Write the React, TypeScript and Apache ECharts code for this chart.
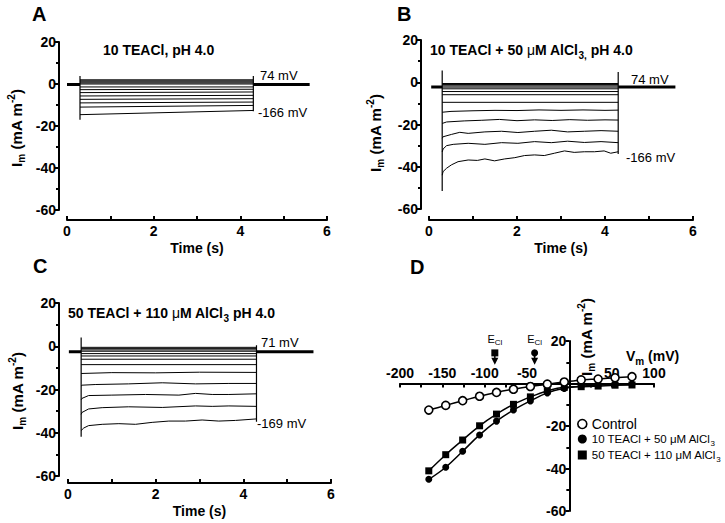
import React, { useEffect, useRef } from 'react';
import * as echarts from 'echarts';

const FONT = '"Liberation Sans", Arial, Helvetica, sans-serif';

// ---------- Panel A: 10 TEACl, pH 4.0 (pulse 0.3 s -> 4.3 s) ----------
const VOLTS_A = [74, 54, 34, 14, -6, -26, -46, -66, -86, -106, -126, -146, -166];
const A_START = [2.0, 1.5, 1.0, 0.5, 0.0, -1.4, -2.7, -4.1, -5.7, -7.3, -9.0, -11.0, -14.6];
const A_END = [2.0, 1.5, 1.0, 0.5, 0.0, -1.4, -2.5, -3.8, -5.4, -7.0, -8.6, -10.2, -12.6];
const A_HOLD = -0.2;
const A_ON = [3.8, -17];
const A_OFF = [3.8, -13];

// ---------- Panel B: 10 TEACl + 50 uM AlCl3 ----------
const B_FLAT = [-0.6, -1.1, -1.7, -2.3, -3.1, -4.4, -5.9, -9.5];
const B_M86 = [[0.3, -14.2], [0.5, -13.8], [1.0, -13.5], [1.5, -13.3], [2.0, -13.4], [2.5, -13.1], [3.0, -13.3], [3.5, -13.1], [4.0, -13.3], [4.3, -13.2]];
const B_M106 = [[0.3, -19.5], [0.4, -18.8], [0.8, -18.3], [1.2, -18.0], [1.6, -17.6], [2.0, -18.2], [2.4, -17.8], [2.8, -18.1], [3.2, -17.7], [3.6, -18.0], [4.0, -17.8], [4.3, -17.9]];
const B_M126 = [[0.3, -26.5], [0.32, -25.8], [0.51, -24.7], [0.7, -23.7], [0.89, -24.2], [1.27, -23.5], [1.65, -23.2], [2.02, -23.8], [2.4, -23.2], [2.78, -22.7], [3.15, -23.5], [3.53, -23.2], [3.91, -22.9], [4.3, -23.2]];
const B_M146 = [[0.3, -33.0], [0.32, -31.6], [0.4, -30.0], [0.55, -29.4], [0.89, -28.9], [1.27, -29.4], [1.65, -28.6], [2.02, -28.9], [2.4, -28.1], [2.78, -28.6], [3.15, -27.9], [3.53, -28.5], [3.91, -28.1], [4.3, -28.6]];
const B_M166 = [[0.3, -44.0], [0.32, -42.3], [0.4, -40.7], [0.51, -39.1], [0.66, -37.6], [0.89, -36.8], [1.1, -37.0], [1.27, -36.3], [1.49, -37.2], [1.72, -36.3], [1.95, -35.7], [2.17, -34.7], [2.4, -34.4], [2.62, -34.7], [2.85, -33.6], [3.08, -32.5], [3.3, -33.2], [3.53, -32.9], [3.76, -32.9], [3.98, -32.5], [4.13, -33.6], [4.3, -32.9]];
const B_HOLD = -2.2;
const B_ON = [5.6, -51.5];
const B_OFF = [4.8, -34];

// ---------- Panel C: 50 TEACl + 110 uM AlCl3 ----------
const C_FLAT = [-0.5, -1.1, -1.7, -2.3, -3.4, -4.5, -6.0, -8.5];
const C_M89 = [[0.3, -12.6], [1.0, -12.2], [2.0, -12.3], [3.0, -12.0], [4.3, -12.1]];
const C_M109 = [[0.3, -18.4], [0.32, -18.0], [0.62, -17.7], [1.38, -17.4], [2.15, -16.9], [2.91, -17.4], [3.67, -17.2], [4.3, -17.2]];
const C_M129 = [[0.3, -24.8], [0.32, -24.1], [0.47, -22.8], [1.0, -22.6], [1.77, -22.3], [2.53, -22.6], [2.91, -21.8], [3.29, -22.3], [3.67, -22.3], [4.3, -22.0]];
const C_M149 = [[0.3, -31.5], [0.32, -30.6], [0.47, -29.0], [0.78, -28.4], [1.38, -28.0], [2.15, -28.3], [2.91, -27.6], [3.29, -27.8], [3.67, -27.6], [4.3, -27.8]];
const C_M169 = [[0.3, -39.0], [0.36, -37.8], [0.47, -36.7], [0.78, -36.1], [1.16, -35.8], [1.54, -36.1], [1.92, -35.2], [2.3, -34.6], [2.68, -34.6], [3.06, -34.1], [3.44, -34.6], [3.82, -34.3], [4.3, -33.6]];
const C_HOLD = -2.6;
const C_ON = [4.0, -41.8];
const C_OFF = [0.5, -34.9];

// ---------- Panel D: I-V relations ----------
const VM = [-166, -146, -126, -106, -86, -66, -46, -26, -6, 14, 34, 54, 74];
const CONTROL = [-12.5, -10.3, -8.1, -6.0, -4.2, -2.7, -1.4, -0.3, 0.7, 1.7, 2.1, 2.7, 3.2];
const AL50 = [-45.1, -39.4, -31.9, -24.2, -17.7, -12.5, -8.2, -4.4, -2.3, -1.2, -0.7, -0.4, -0.2];
const AL110 = [-41.1, -33.5, -26.6, -19.9, -14.4, -9.8, -6.3, -3.5, -1.8, -1.5, -1.2, -0.8, -0.7];
const NAMES = ['Control', '10 TEACl + 50 \u03bcM AlCl3', '50 TEACl + 110 \u03bcM AlCl3'];
const ECL_SQ = -88;
const ECL_CI = -41;
const ECL_MARK = 14.4;
const ECL_ARROW = 10.5;

// D axis geometry (grid px): zero crossing offsets
const D_LEFT = 400, D_TOP = 341, D_W = 254, D_H = 170;
const D_XMIN = -200, D_XMAX = 100, D_YMIN = -60, D_YMAX = 20;

const BLACK = '#000';

function lineSeries(gi: number, data: any[], width = 1) {
  return {
    type: 'line', xAxisIndex: gi, yAxisIndex: gi, data, symbol: 'none', silent: true,
    lineStyle: { color: BLACK, width }, z: 2,
  };
}

function panelSeries(gi: number, traces: any[], hold: number, range: number[], on: number[], off: number[]) {
  const s: any[] = traces.map((t) => lineSeries(gi, t, 1));
  s.push(lineSeries(gi, [[range[0], hold], [0.3, hold]], 3));
  s.push(lineSeries(gi, [[4.3, hold], [range[1], hold]], 3));
  s.push(lineSeries(gi, [[0.3, on[0]], [0.3, on[1]]], 1.2));
  s.push(lineSeries(gi, [[4.3, off[0]], [4.3, off[1]]], 1.2));
  return s;
}

const labelStyle = { color: BLACK, fontFamily: FONT, fontSize: 14, fontWeight: 'bold' };

function traceX(gi: number, offset: number) {
  return {
    gridIndex: gi, type: 'value', min: 0, max: 6, interval: 2, offset,
    axisLine: { show: true, onZero: false, lineStyle: { color: BLACK, width: 2 } },
    axisTick: { show: true, inside: true, length: 4, lineStyle: { color: BLACK, width: 2 } },
    minorTick: { show: true, splitNumber: 2, length: 4, lineStyle: { color: BLACK, width: 2 } },
    splitLine: { show: false },
    axisLabel: { ...labelStyle, margin: 4 },
    name: 'Time (s)', nameLocation: 'middle', nameGap: 21,
    nameTextStyle: { ...labelStyle },
  };
}

function traceY(gi: number, offset: number) {
  return {
    gridIndex: gi, type: 'value', min: -60, max: 20, interval: 20, offset,
    axisLine: { show: true, onZero: false, lineStyle: { color: BLACK, width: 2 } },
    axisTick: { show: true, length: 4, lineStyle: { color: BLACK, width: 2 } },
    minorTick: { show: true, splitNumber: 2, length: 3, lineStyle: { color: BLACK, width: 2 } },
    splitLine: { show: false },
    axisLabel: { ...labelStyle, margin: 3 },
  };
}

const yNameRich = {
  a: { fontFamily: FONT, fontSize: 15, fontWeight: 'bold', color: BLACK, lineHeight: 20, verticalAlign: 'middle' },
  b: { fontFamily: FONT, fontSize: 10, fontWeight: 'bold', color: BLACK, lineHeight: 20, verticalAlign: 'bottom' },
  c: { fontFamily: FONT, fontSize: 10, fontWeight: 'bold', color: BLACK, lineHeight: 20, verticalAlign: 'top' },
};

function yName(x: number, y: number) {
  return {
    type: 'text', x, y, rotation: Math.PI / 2,
    style: { text: '{a|I}{b|m}{a| (mA m}{c|-2}{a|)}', rich: yNameRich, align: 'center', verticalAlign: 'middle' },
  };
}

function plainText(x: number, y: number, text: string, size = 13, weight = 'normal') {
  return {
    type: 'text', x, y,
    style: { text, fontFamily: FONT, fontSize: size, fontWeight: weight, fill: BLACK, verticalAlign: 'middle' },
  };
}

const titleRich = {
  b: { fontFamily: FONT, fontSize: 14, fontWeight: 'bold', color: BLACK, lineHeight: 20, verticalAlign: 'middle' },
  u: { fontFamily: FONT, fontSize: 14, fontWeight: 'normal', color: BLACK, lineHeight: 20, verticalAlign: 'middle' },
  s: { fontFamily: FONT, fontSize: 10, fontWeight: 'bold', color: BLACK, lineHeight: 20, verticalAlign: 'bottom' },
};

function richText(x: number, y: number, text: string, rich: any) {
  return { type: 'text', x, y, style: { text, rich, verticalAlign: 'middle' } };
}

function buildOption() {
  const tracesA = VOLTS_A.map((_, i) => [[0.3, A_START[i]], [4.3, A_END[i]]]);
  const tracesB = [...B_FLAT.map((v) => [[0.3, v], [4.3, v]]), B_M86, B_M106, B_M126, B_M146, B_M166];
  const tracesC = [...C_FLAT.map((v) => [[0.3, v], [4.3, v]]), C_M89, C_M109, C_M129, C_M149, C_M169];

  const hideZero = (v: number) => (v === 0 ? '' : String(v));
  const xZeroOffset = -(D_W * (0 - D_XMIN)) / (D_XMAX - D_XMIN);
  const yZeroOffset = -(D_H * (D_YMAX - 0)) / (D_YMAX - D_YMIN);

  const eclRich = {
    e: { fontFamily: FONT, fontSize: 11, color: BLACK, lineHeight: 14, verticalAlign: 'middle', textBorderWidth: 0 },
    c: { fontFamily: FONT, fontSize: 8, color: BLACK, lineHeight: 14, verticalAlign: 'bottom', textBorderWidth: 0 },
  };

  const dSeries: any[] = [
    {
      name: NAMES[0], type: 'line', xAxisIndex: 3, yAxisIndex: 3,
      data: VM.map((v, i) => [v, CONTROL[i]]), smooth: 0.3,
      symbol: 'circle', symbolSize: 8,
      itemStyle: { color: '#fff', borderColor: BLACK, borderWidth: 1.6 },
      lineStyle: { color: BLACK, width: 1.5 }, z: 5,
    },
    {
      name: NAMES[1], type: 'line', xAxisIndex: 3, yAxisIndex: 3,
      data: VM.map((v, i) => [v, AL50[i]]), smooth: 0.4,
      symbol: 'circle', symbolSize: 7,
      itemStyle: { color: BLACK, borderColor: BLACK, borderWidth: 0 },
      lineStyle: { color: BLACK, width: 1.5 }, z: 4,
    },
    {
      name: NAMES[2], type: 'line', xAxisIndex: 3, yAxisIndex: 3,
      data: VM.map((v, i) => [v, AL110[i]]), smooth: 0.4,
      symbol: 'rect', symbolSize: 7,
      itemStyle: { color: BLACK, borderColor: BLACK, borderWidth: 0 },
      lineStyle: { color: BLACK, width: 1.5 }, z: 4,
    },
    lineSeries(3, [[ECL_SQ, ECL_MARK], [ECL_SQ, ECL_ARROW]], 1.5),
    lineSeries(3, [[ECL_CI, ECL_MARK], [ECL_CI, ECL_ARROW]], 1.5),
    {
      type: 'scatter', xAxisIndex: 3, yAxisIndex: 3, silent: true,
      data: [{ value: [ECL_SQ, ECL_MARK], symbol: 'rect' }, { value: [ECL_CI, ECL_MARK], symbol: 'circle' }],
      symbolSize: 7, itemStyle: { color: BLACK, opacity: 1 },
      label: {
        show: true, position: 'top', distance: 3, formatter: '{e|E}{c|Cl}', color: BLACK,
        opacity: 1, textBorderWidth: 0, rich: eclRich,
      },
      z: 6,
    },
    {
      type: 'scatter', xAxisIndex: 3, yAxisIndex: 3, silent: true,
      data: [[ECL_SQ, ECL_ARROW], [ECL_CI, ECL_ARROW]],
      symbol: 'triangle', symbolRotate: 180, symbolSize: [7, 7], itemStyle: { color: BLACK, opacity: 1 },
      z: 6,
    },
  ];

  return {
    animation: false,
    backgroundColor: '#fff',
    grid: [
      { left: 67, top: 42, width: 260, height: 168, outerBoundsMode: 'none' },
      { left: 429, top: 40, width: 264, height: 169, outerBoundsMode: 'none' },
      { left: 68, top: 303, width: 263, height: 173, outerBoundsMode: 'none' },
      { left: D_LEFT, top: D_TOP, width: D_W, height: D_H, outerBoundsMode: 'none' },
    ],
    xAxis: [
      traceX(0, 10),
      traceX(1, 11),
      traceX(2, 7),
      {
        gridIndex: 3, type: 'value', min: D_XMIN, max: D_XMAX, interval: 50, position: 'top',
        offset: yZeroOffset,
        axisLine: { show: true, onZero: false, lineStyle: { color: BLACK, width: 2 } },
        axisTick: { show: true, inside: true, length: 4, lineStyle: { color: BLACK, width: 2 } },
        minorTick: { show: true, splitNumber: 2, length: 4, lineStyle: { color: BLACK, width: 2 } },
        splitLine: { show: false },
        axisLabel: { ...labelStyle, margin: 4, formatter: hideZero },
      },
    ],
    yAxis: [
      traceY(0, 8),
      traceY(1, 8),
      traceY(2, 9),
      {
        gridIndex: 3, type: 'value', min: D_YMIN, max: D_YMAX, interval: 20, position: 'left',
        offset: xZeroOffset,
        axisLine: { show: true, onZero: false, lineStyle: { color: BLACK, width: 2 } },
        axisTick: { show: true, length: 4, lineStyle: { color: BLACK, width: 2 } },
        minorTick: { show: true, splitNumber: 2, length: 3, lineStyle: { color: BLACK, width: 2 } },
        splitLine: { show: false },
        axisLabel: { ...labelStyle, margin: 3, formatter: hideZero },
      },
    ],
    legend: {
      data: [
        { name: NAMES[0], icon: 'circle', itemStyle: { color: '#fff', borderColor: BLACK, borderWidth: 1.6 } },
        { name: NAMES[1], icon: 'circle', itemStyle: { color: BLACK, borderWidth: 0 } },
        { name: NAMES[2], icon: 'rect', itemStyle: { color: BLACK, borderWidth: 0 } },
      ],
      orient: 'vertical', left: 572, top: 412, itemGap: 2, itemWidth: 9, itemHeight: 9,
      selectedMode: false,
      formatter: (n: string) => (n === NAMES[0] ? '{c|Control}' : '{t|' + n.slice(0, -1) + '}{s|3}'),
      textStyle: {
        fontFamily: FONT, fontSize: 11.5, color: BLACK,
        rich: {
          c: { fontFamily: FONT, fontSize: 14, color: BLACK, lineHeight: 16 },
          t: { fontFamily: FONT, fontSize: 11.5, color: BLACK, lineHeight: 16, verticalAlign: 'middle' },
          s: { fontFamily: FONT, fontSize: 8, color: BLACK, lineHeight: 16, verticalAlign: 'bottom' },
        },
      },
    },
    series: [
      ...panelSeries(0, tracesA, A_HOLD, [0, 5.6], A_ON, A_OFF),
      ...panelSeries(1, tracesB, B_HOLD, [0.05, 5.6], B_ON, B_OFF),
      ...panelSeries(2, tracesC, C_HOLD, [0.02, 5.6], C_ON, C_OFF),
      ...dSeries,
    ],
    graphic: [
      plainText(32, 14, 'A', 20, 'bold'),
      plainText(397, 14, 'B', 20, 'bold'),
      plainText(33, 266, 'C', 20, 'bold'),
      plainText(410, 267, 'D', 20, 'bold'),
      plainText(103, 50, '10 TEACl, pH 4.0', 14, 'bold'),
      richText(430, 50, '{b|10 TEACl + 50 }{u|\u03bc}{b|M AlCl}{s|3,}{b| pH 4.0}', titleRich),
      richText(68, 313, '{b|50 TEACl + 110 }{u|\u03bc}{b|M AlCl}{s|3}{b| pH 4.0}', titleRich),
      plainText(260, 75, '74 mV'),
      plainText(258, 112, '-166 mV'),
      plainText(631, 79, '74 mV'),
      plainText(626, 157, '-166 mV'),
      plainText(261, 342, '71 mV'),
      plainText(257, 423, '-169 mV'),
      yName(16, 128),
      yName(375, 133),
      yName(17, 391),
      yName(586, 337),
      richText(626, 356, '{b|V}{s|m}{b| (mV)}', titleRich),
    ],
  };
}

export default function App() {
  const ref = useRef<HTMLDivElement>(null);
  useEffect(() => {
    document.body.style.margin = '0';
    const chart = echarts.init(ref.current as HTMLDivElement, null, { renderer: 'svg' });
    chart.setOption(buildOption() as any);
    return () => chart.dispose();
  }, []);
  return <div ref={ref} style={{ width: 725, height: 523, background: '#fff' }} />;
}
